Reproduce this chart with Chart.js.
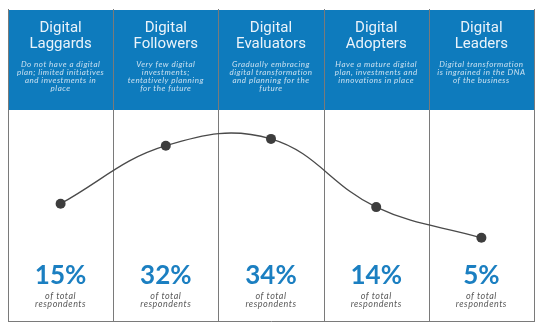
<!DOCTYPE html>
<html>
<head>
<meta charset="utf-8">
<script src="https://cdn.jsdelivr.net/npm/chart.js@4"></script>
<style>
  html, body { margin: 0; padding: 0; background: #fff; }
  #wrap { width: 544px; height: 331px; position: relative; }
</style>
</head>
<body>
<div id="wrap"><canvas id="chart-maturity"></canvas></div>
<script>
// ---- data ----
const stages   = ["Digital Laggards", "Digital Followers", "Digital Evaluators", "Digital Adopters", "Digital Leaders"];
const titles   = [["Digital", "Laggards"], ["Digital", "Followers"], ["Digital", "Evaluators"], ["Digital", "Adopters"], ["Digital", "Leaders"]];
const blurbs   = [
  ["Do not have a digital", "plan; limited initiatives", "and investments in", "place"],
  ["Very few digital", "investments;", "tentatively planning", "for the future"],
  ["Gradually embracing", "digital transformation", "and planning for the", "future"],
  ["Have a mature digital", "plan, investments and", "innovations in place"],
  ["Digital transformation", "is ingrained in the DNA", "of the business"]
];
const shares   = [15, 32, 34, 14, 5];
const subLabel = ["of total", "respondents"];

// ---- look ----
const BLUE  = "#0e7bbd";
const RULE  = "#7a7a7a";
const DARK  = "#3d3d3d";
const HEADER_BOTTOM = 110;

// header panels, column rules and percentage labels
const panels = {
  id: "panels",
  beforeDatasetsDraw(chart) {
    const { ctx, chartArea: a, scales: { x } } = chart;
    const n = stages.length;
    const half = (x.getPixelForValue(1) - x.getPixelForValue(0)) / 2;
    ctx.save();

    // blue header band
    ctx.fillStyle = BLUE;
    ctx.fillRect(a.left, a.top, a.right - a.left, HEADER_BOTTOM - a.top);

    // column rules + base line
    ctx.strokeStyle = RULE;
    ctx.lineWidth = 1;
    ctx.beginPath();
    for (let i = 0; i <= n; i++) {
      const px = Math.round(i < n ? x.getPixelForValue(i) - half : x.getPixelForValue(n - 1) + half) + 0.5;
      ctx.moveTo(px, a.top - 1);
      ctx.lineTo(px, a.bottom);
    }
    ctx.moveTo(a.left, a.bottom + 0.5);
    ctx.lineTo(a.right + 1, a.bottom + 0.5);
    ctx.stroke();

    ctx.textAlign = "center";
    ctx.textBaseline = "middle";
    stages.forEach((s, i) => {
      const cx = x.getPixelForValue(i);

      ctx.fillStyle = "#eaf3fa";
      ctx.font = "15px Roboto";
      titles[i].forEach((t, j) => ctx.fillText(t, cx, 28 + j * 16));

      ctx.fillStyle = "#c9e0f0";
      ctx.font = "italic 8px Lato";
      ctx.letterSpacing = "0.5px";
      blurbs[i].forEach((t, j) => ctx.fillText(t, cx, 64 + j * 8));

      ctx.letterSpacing = "0px";
      ctx.fillStyle = "#1b7fc1";
      ctx.font = "bold 26px Lato";
      ctx.fillText(shares[i] + "%", cx, 276);

      ctx.fillStyle = "#5a5a5a";
      ctx.font = "italic 9px Lato";
      ctx.letterSpacing = "0.5px";
      subLabel.forEach((t, j) => ctx.fillText(t, cx, 296 + j * 8.5));
      ctx.letterSpacing = "0px";
    });
    ctx.restore();
  }
};

new Chart(document.getElementById("chart-maturity"), {
  type: "line",
  data: {
    labels: stages,
    datasets: [{
      data: shares,
      borderColor: "#4a4a4a",
      borderWidth: 1.3,
      tension: 0.4,
      pointRadius: 5,
      pointBackgroundColor: DARK,
      pointBorderColor: DARK,
      pointBorderWidth: 0,
      fill: false
    }]
  },
  options: {
    responsive: true,
    maintainAspectRatio: false,
    animation: false,
    layout: { padding: { left: 8, right: 10, top: 10, bottom: 10 } },
    plugins: { legend: { display: false }, tooltip: { enabled: false } },
    scales: {
      x: { display: false, offset: true },
      y: { display: false, min: -19.4, max: 71.8 }
    }
  },
  plugins: [panels]
});
</script>
</body>
</html>
